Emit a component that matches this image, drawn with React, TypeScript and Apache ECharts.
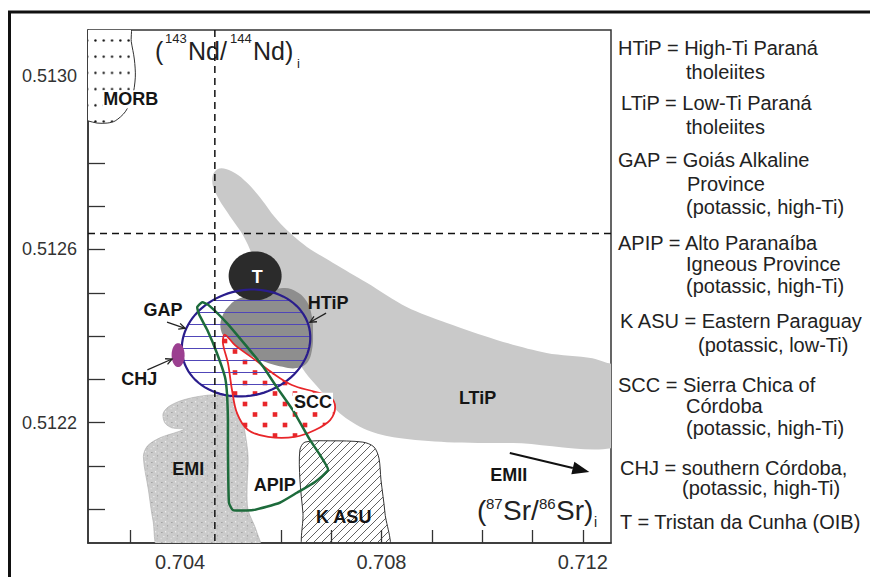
import React, { useEffect, useRef } from "react";
import * as echarts from "echarts";

const FONT = "'Liberation Sans', Arial, Helvetica, sans-serif";

// ---- axes ----
const srMin = 0.70217;
const srMax = 0.71256;
const ndMin = 0.511922;
const ndMax = 0.513107;
const srTicks = [0.703, 0.704, 0.705, 0.706, 0.707, 0.708, 0.709, 0.71, 0.711, 0.712];
const srTickLabels = [0.704, 0.708, 0.712];
const ndTicks = [0.512, 0.5121, 0.5122, 0.5123, 0.5124, 0.5125, 0.5126, 0.5127, 0.5128, 0.5129, 0.513, 0.5131];
const ndTickLabels = [0.5122, 0.5126, 0.513];

// reference (dashed) lines: [Sr, Nd]
const refLines = [[0.70469, 0.512637]];

// ---- fields, [87Sr/86Sr, 143Nd/144Nd] ----
const morb = [
  [0.70201, 0.51312], [0.70299, 0.51312], [0.70303, 0.51308], [0.70309, 0.51304], [0.70311, 0.512998],
  [0.70305, 0.512952], [0.70291, 0.512918], [0.70271, 0.512897], [0.70255, 0.512892], [0.70235, 0.512892],
  [0.70217, 0.512897], [0.70201, 0.5129],
];
const ltip = [
  [0.70465, 0.512772], [0.70475, 0.512786], [0.70491, 0.512786], [0.70515, 0.512772], [0.70539, 0.512747],
  [0.70563, 0.512714], [0.70588, 0.512675], [0.70612, 0.512645], [0.70652, 0.512606], [0.70704, 0.512569],
  [0.70771, 0.512523], [0.7085, 0.512467], [0.7093, 0.51243], [0.71029, 0.512391], [0.71128, 0.512361],
  [0.71219, 0.512349], [0.71243, 0.51234], [0.7128, 0.512322], [0.7128, 0.512151],
  [0.71061, 0.512153], [0.7093, 0.512155], [0.70831, 0.512165], [0.70771, 0.512183], [0.70717, 0.512222],
  [0.70678, 0.512276], [0.70648, 0.512317], [0.70622, 0.512368], [0.70588, 0.512437], [0.70563, 0.512495],
  [0.70543, 0.512587], [0.70525, 0.512633], [0.70499, 0.512677], [0.70477, 0.512716], [0.70465, 0.512747],
];
const htip = [
  [0.70483, 0.512443], [0.70499, 0.512472], [0.70525, 0.51249], [0.70604, 0.512511], [0.70632, 0.512502],
  [0.70652, 0.512479], [0.70662, 0.512444], [0.70664, 0.512407], [0.70662, 0.512368], [0.70652, 0.512338],
  [0.70632, 0.512326], [0.70604, 0.512329], [0.70559, 0.512345], [0.70519, 0.512368], [0.70493, 0.512391],
  [0.70481, 0.512414],
];
// elliptical fields: centre [Sr, Nd], half-widths [dSr, dNd]
const tristanCentre = [0.70549, 0.512539];
const tristanRadii = [0.000526, 0.0000566];
const gapCentre = [0.70531, 0.512384];
const gapRadii = [0.00127, 0.0001236];
const chjCentre = [0.70396, 0.512356];
const chjRadii = [0.000129, 0.0000277];

const scc = [
  [0.70489, 0.512403], [0.70509, 0.512379], [0.70549, 0.512345], [0.70583, 0.512315], [0.70622, 0.512287],
  [0.70668, 0.512271], [0.70698, 0.512259], [0.70708, 0.512236], [0.70698, 0.512206], [0.70668, 0.512183],
  [0.70628, 0.512167], [0.70575, 0.512167], [0.70535, 0.512183], [0.70513, 0.512222], [0.70503, 0.512276],
  [0.70495, 0.512338], [0.70485, 0.512384],
];
const apip = [
  [0.70434, 0.512467], [0.70444, 0.512478], [0.70456, 0.512472], [0.70493, 0.51243], [0.70533, 0.512375],
  [0.70565, 0.512329], [0.70592, 0.512282], [0.70624, 0.512229], [0.70658, 0.51216], [0.70678, 0.512125],
  [0.70694, 0.512091], [0.70668, 0.512063], [0.70632, 0.512038], [0.70598, 0.512015], [0.70545, 0.511998],
  [0.70505, 0.511998], [0.70497, 0.512015], [0.70495, 0.512137], [0.70495, 0.512206], [0.70493, 0.512269],
  [0.70489, 0.512306], [0.70473, 0.512361], [0.70454, 0.512414], [0.70438, 0.512449],
];
const emi = [
  [0.70362, 0.5119], [0.70346, 0.511975], [0.70337, 0.512045], [0.70327, 0.512121], [0.70335, 0.512146],
  [0.7036, 0.512165], [0.70396, 0.512179], [0.70408, 0.512185], [0.70384, 0.512188], [0.7037, 0.512199],
  [0.70366, 0.51222], [0.70376, 0.512236], [0.704, 0.51225], [0.7043, 0.512259], [0.70465, 0.512264],
  [0.70499, 0.512259], [0.70519, 0.512229], [0.70529, 0.512176], [0.70535, 0.512121], [0.70533, 0.512045],
  [0.70535, 0.511998], [0.70551, 0.511952], [0.70559, 0.5119],
];
const kasu = [
  [0.70649, 0.5119], [0.70644, 0.511991], [0.70638, 0.512068], [0.70638, 0.512137], [0.70648, 0.512155],
  [0.70698, 0.512158], [0.70763, 0.512155], [0.70785, 0.512144], [0.70795, 0.512118], [0.70799, 0.512068],
  [0.70807, 0.511991], [0.70812, 0.5119],
];

// ---- field labels ----
const labelNames = ["MORB", "T", "HTiP", "GAP", "CHJ", "SCC", "LTiP", "EMI", "APIP", "K ASU", "EMII"];
const labelSr = [0.70302, 0.70553, 0.70694, 0.70366, 0.70319, 0.70664, 0.70991, 0.70416, 0.70588, 0.70725, 0.71053];
const labelNd = [0.512947, 0.512536, 0.512476, 0.51246, 0.512301, 0.512248, 0.512257, 0.512093, 0.512056, 0.511982, 0.512079];

// ---- arrows: from [Sr, Nd] to [Sr, Nd] ----
const arrowFrom = [[0.70374, 0.512432], [0.70335, 0.512322], [0.7069, 0.512453], [0.71055, 0.51213]];
const arrowTo = [[0.7041, 0.512418], [0.70384, 0.512347], [0.70658, 0.512432], [0.71213, 0.512086]];
const arrowFilled = [0, 0, 0, 1];

// ---- legend text ----
const legendText = [
  "HTiP = High-Ti Paraná", "tholeiites",
  "LTiP = Low-Ti Paraná", "tholeiites",
  "GAP = Goiás Alkaline", "Province", "(potassic, high-Ti)",
  "APIP = Alto Paranaíba", "Igneous Province", "(potassic, high-Ti)",
  "K ASU = Eastern Paraguay", "(potassic, low-Ti)",
  "SCC = Sierra Chica of", "Córdoba", "(potassic, high-Ti)",
  "CHJ = southern Córdoba,", "(potassic, high-Ti)",
  "T = Tristan da Cunha (OIB)",
];
const legendLayout = [
  [618, 48], [686, 72],
  [621, 103], [686, 127],
  [618, 160], [687, 184], [686, 207],
  [618, 243], [686, 264], [686, 286],
  [620, 321], [698, 345],
  [618, 385], [686, 406], [686, 428],
  [620, 468], [682, 488],
  [620, 522],
];

function svgTile(w: number, h: number, body: string) {
  return (
    "data:image/svg+xml;charset=utf-8," +
    encodeURIComponent(
      `<svg xmlns='http://www.w3.org/2000/svg' width='${w}' height='${h}' viewBox='0 0 ${w} ${h}'>${body}</svg>`
    )
  );
}
function pattern(w: number, h: number, body: string, x = 0, y = 0): any {
  return { image: svgTile(w, h, body), repeat: "repeat", imageWidth: w, imageHeight: h, x, y };
}

const morbPattern = pattern(8.3, 16.2, "<rect width='8.3' height='16.2' fill='#fff'/><circle cx='4.15' cy='8.1' r='1.15' fill='#111'/>", 90.85, 29.9);
const gapPattern = pattern(6, 12, "<rect x='0' y='0' width='6' height='1' fill='#5046b8'/>", 0, 299.5);
const sccPattern = pattern(20, 21, "<rect width='20' height='21' fill='#fff'/><rect x='2.7' y='2.7' width='4.6' height='4.6' fill='#e8262a'/><rect x='12.7' y='13.2' width='4.6' height='4.6' fill='#e8262a'/>", 240, 354);
const kasuPattern = pattern(8, 8, "<path d='M-1,9 L9,-1 M-1,1 L1,-1 M7,9 L9,7' stroke='#3a3a3a' stroke-width='0.8' fill='none'/>", 0, 0);
const emiPattern = pattern(
  10, 10,
  "<rect width='10' height='10' fill='#cbcbcb'/>" +
    "<rect x='1' y='2' width='1.6' height='1' fill='#a4a4a4'/>" +
    "<rect x='5' y='1' width='1.2' height='1.5' fill='#ececec'/>" +
    "<rect x='3' y='6' width='1.6' height='1.1' fill='#e8e8e8'/>" +
    "<rect x='7' y='5' width='1.1' height='1.6' fill='#a8a8a8'/>" +
    "<rect x='6.5' y='8.3' width='1.3' height='1' fill='#b4b4b4'/>" +
    "<rect x='8.2' y='2.5' width='1' height='1' fill='#e2e2e2'/>" +
    "<rect x='0.5' y='8' width='1.2' height='1.2' fill='#e2e2e2'/>",
  0, 0
);

function poly(points: number[][], style: any, smooth: number) {
  return {
    type: "custom",
    coordinateSystem: "cartesian2d",
    clip: true,
    silent: true,
    data: points,
    renderItem: (params: any, api: any) => {
      if (params.dataIndex !== 0) return null;
      return {
        type: "polygon",
        shape: { points: points.map((p) => api.coord(p)), smooth },
        style,
      };
    },
  };
}

function ellipse(centre: number[], radii: number[], style: any, shear: number) {
  return {
    type: "custom",
    coordinateSystem: "cartesian2d",
    clip: true,
    silent: true,
    data: [centre],
    renderItem: (params: any, api: any) => {
      const c = api.coord(centre);
      const s = api.size(radii, centre);
      const pts: number[][] = [];
      for (let k = 0; k < 90; k++) {
        const t = (2 * Math.PI * k) / 90;
        const dy = s[1] * Math.sin(t);
        const dx = s[0] * Math.cos(t) + shear * dy;
        pts.push([c[0] + dx, c[1] + dy]);
      }
      return { type: "polygon", shape: { points: pts }, style };
    },
  };
}

export default function App() {
  const ref = useRef<HTMLDivElement>(null);
  useEffect(() => {
    if (!ref.current) return;
    const chart = echarts.init(ref.current, undefined, { renderer: "svg" });

    const dashedSeries = {
      type: "custom",
      coordinateSystem: "cartesian2d",
      silent: true,
      data: refLines,
      renderItem: (params: any, api: any) => {
        const cs = params.coordSys;
        const c = api.coord([api.value(0), api.value(1)]);
        const st = { stroke: "#111", lineWidth: 1.5, lineDash: [7, 5] };
        return {
          type: "group",
          children: [
            { type: "line", shape: { x1: c[0], y1: cs.y, x2: c[0], y2: cs.y + cs.height }, style: st },
            { type: "line", shape: { x1: cs.x, y1: c[1], x2: cs.x + cs.width, y2: c[1] }, style: st },
          ],
        };
      },
    };

    const arrowSeries = {
      type: "custom",
      coordinateSystem: "cartesian2d",
      silent: true,
      data: arrowFrom.map((f, i) => [f[0], f[1], arrowTo[i][0], arrowTo[i][1], arrowFilled[i]]),
      renderItem: (params: any, api: any) => {
        const p1 = api.coord([api.value(0), api.value(1)]);
        const p2 = api.coord([api.value(2), api.value(3)]);
        const filled = api.value(4) === 1;
        const a = Math.atan2(p2[1] - p1[1], p2[0] - p1[0]);
        if (filled) {
          const L = 17, W = 6.5;
          const bx = p2[0] - L * Math.cos(a), by = p2[1] - L * Math.sin(a);
          const nx = -Math.sin(a), ny = Math.cos(a);
          return {
            type: "group",
            children: [
              { type: "line", shape: { x1: p1[0], y1: p1[1], x2: bx, y2: by }, style: { stroke: "#111", lineWidth: 2 } },
              {
                type: "polygon",
                shape: { points: [[p2[0], p2[1]], [bx + nx * W, by + ny * W], [bx - nx * W, by - ny * W]] },
                style: { fill: "#111" },
              },
            ],
          };
        }
        const L = 7, h = 0.45;
        const q1 = [p2[0] - L * Math.cos(a - h), p2[1] - L * Math.sin(a - h)];
        const q2 = [p2[0] - L * Math.cos(a + h), p2[1] - L * Math.sin(a + h)];
        return {
          type: "group",
          children: [
            { type: "line", shape: { x1: p1[0], y1: p1[1], x2: p2[0], y2: p2[1] }, style: { stroke: "#222", lineWidth: 1.3 } },
            { type: "polyline", shape: { points: [q1, p2, q2] }, style: { stroke: "#222", lineWidth: 1.3, fill: "none" } },
          ],
        };
      },
    };

    const labelSeries = {
      type: "custom",
      coordinateSystem: "cartesian2d",
      silent: true,
      data: labelSr.map((s, i) => [s, labelNd[i]]),
      renderItem: (params: any, api: any) => {
        const i = params.dataIndex;
        const c = api.coord([api.value(0), api.value(1)]);
        const name = labelNames[i];
        const style: any = {
          text: name,
          fill: name === "T" ? "#fff" : "#151515",
          fontSize: 18,
          fontWeight: "bold",
          fontFamily: FONT,
          align: "center",
          verticalAlign: "middle",
        };
        if (name === "MORB" || name === "SCC") {
          style.backgroundColor = "#fff";
          style.padding = [0, 1];
        }
        return { type: "text", x: c[0], y: c[1], style };
      },
    };

    const legendEls = legendText.map((t, i) => ({
      type: "text",
      x: legendLayout[i][0],
      y: legendLayout[i][1],
      style: { text: t, fontSize: 20, fontFamily: FONT, fill: "#222", align: "left", verticalAlign: "middle" },
    }));

    const titleEl = (text: string, x: number, y: number, size: number) => ({
      type: "text",
      x,
      y,
      style: { text, fontSize: size, fontFamily: FONT, fill: "#222", align: "left", verticalAlign: "middle" },
    });

    const titles = [
      titleEl("(", 155, 51, 25),
      titleEl("143", 165, 38, 13),
      titleEl("Nd/", 188, 51, 25),
      titleEl("144", 230, 38, 13),
      titleEl("Nd)", 253, 51, 25),
      titleEl("i", 297, 63, 13),
      titleEl("(", 477, 510, 28),
      titleEl("87", 486, 503, 15),
      titleEl("Sr/", 503, 510, 28),
      titleEl("86", 539, 503, 15),
      titleEl("Sr)", 556, 510, 28),
      titleEl("i", 594, 522, 14),
    ];

    chart.setOption({
      animation: false,
      backgroundColor: "#fff",
      grid: { left: 88, top: 30, width: 523, height: 513, show: true, borderColor: "#333", borderWidth: 1.5 },
      xAxis: {
        type: "value",
        min: srMin,
        max: srMax,
        splitLine: { show: false },
        axisLine: { show: true, lineStyle: { color: "#333", width: 1.5 } },
        axisTick: { show: true, inside: true, length: 13, customValues: srTicks, lineStyle: { color: "#333", width: 1.3 } },
        axisLabel: {
          customValues: srTickLabels,
          formatter: (v: number) => v.toFixed(3),
          fontSize: 20,
          fontFamily: FONT,
          color: "#333",
          margin: 9,
        },
      },
      yAxis: {
        type: "value",
        min: ndMin,
        max: ndMax,
        splitLine: { show: false },
        axisLine: { show: true, lineStyle: { color: "#333", width: 1.5 } },
        axisTick: { show: true, inside: true, length: 17, customValues: ndTicks, lineStyle: { color: "#333", width: 1.3 } },
        axisLabel: {
          customValues: ndTickLabels,
          formatter: (v: number) => v.toFixed(4),
          fontSize: 18,
          fontFamily: FONT,
          color: "#333",
          margin: 11,
        },
      },
      graphic: {
        elements: [
          { type: "rect", shape: { x: 9.5, y: 12, width: 900, height: 700 }, style: { fill: "none", stroke: "#111", lineWidth: 3 } },
          ...legendEls,
          ...titles,
        ],
      },
      series: [
        poly(ltip, { fill: "#c9c9c9" }, 0.3),
        poly(htip, { fill: "#8e8e8e" }, 0.4),
        ellipse(tristanCentre, tristanRadii, { fill: "#2b2b2b" }, 0),
        poly(emi, { fill: emiPattern, stroke: "#a8a8a8", lineWidth: 0.6 }, 0.3),
        poly(scc, { fill: sccPattern }, 0.35),
        ellipse(gapCentre, gapRadii, { fill: gapPattern }, -0.12),
        ellipse(gapCentre, gapRadii, { fill: "none", stroke: "#2a1d8c", lineWidth: 2.2 }, -0.12),
        poly(scc, { fill: "none", stroke: "#e8262a", lineWidth: 1.8 }, 0.35),
        ellipse(chjCentre, chjRadii, { fill: "#9b3f90" }, 0),
        poly(kasu, { fill: kasuPattern, stroke: "#333", lineWidth: 1 }, 0.3),
        poly(apip, { fill: "none", stroke: "#1d6b3b", lineWidth: 2.5 }, 0.15),
        poly(morb, { fill: morbPattern, stroke: "#333", lineWidth: 1 }, 0.3),
        dashedSeries,
        arrowSeries,
        labelSeries,
      ],
    });
    return () => chart.dispose();
  }, []);
  return <div ref={ref} style={{ position: "fixed", left: 0, top: 0, width: 870, height: 577 }} />;
}
